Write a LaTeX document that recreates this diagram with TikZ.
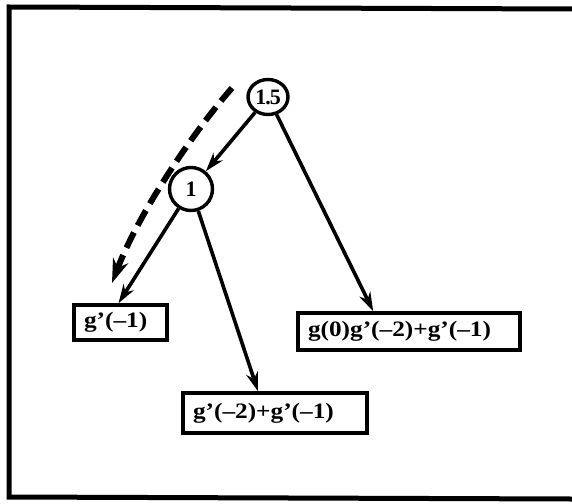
\documentclass[tikz,border=0pt]{standalone}
\usepackage{fontspec}
\setmainfont{Liberation Serif}
\newfontfamily\boxfont[FakeStretch=1.15]{Liberation Serif}
\usetikzlibrary{arrows.meta,shapes.geometric,calc}
\begin{document}
\begin{tikzpicture}[x=1pt,y=-1pt,
  circnode/.style={draw,ellipse,line width=3.4pt,inner sep=0pt,font=\fontsize{22}{24}\selectfont\bfseries},
  boxnode/.style={draw,rectangle,line width=3.6pt,inner ysep=0pt,inner xsep=10pt,align=left,anchor=center,font=\boxfont\fontsize{22}{24}\selectfont\bfseries},
  edge/.style={line width=3.6pt,-{Stealth[length=19pt,width=12pt]}},
  dashedge/.style={line width=6pt,dash pattern=on 17pt off 8pt,-{Stealth[length=24pt,width=16pt]}}]
\useasboundingbox (0,0) rectangle (572,503);
\draw[line width=5pt] (572,9) -- (9,7) -- (9,497) -- (572,499);
\node[circnode,minimum width=40pt,minimum height=35pt] (n15) at (268,97) {1\kern-1pt.\kern-1pt5};
\node[circnode,minimum width=43pt,minimum height=43pt] (n1) at (191,189) {1};
\node[boxnode,text width=73pt,minimum height=35pt] (b1) at (120.5,322.5) {g’(–1)};
\node[boxnode,text width=202pt,minimum height=37pt] (b3) at (409,331.5) {g(0)g’(–2)+g’(–1)};
\node[boxnode,text width=164pt,minimum height=40pt] (b2) at (275,413) {g’(–2)+g’(–1)};
\coordinate (ds) at (232,88);
\coordinate (de) at (112,283);
\draw[edge] (n15) -- ($(b3.north west)+(77,0)$);
\draw[edge] (n15) -- (n1);
\draw[edge] (n1) -- ($(b1.north)+(-2,0)$);
\draw[edge] (n1) -- ($(b2.north)+(-17,0)$);
\draw[dashedge] (ds) .. controls (195,130) and (140,210) .. (de);
\end{tikzpicture}
\end{document}
